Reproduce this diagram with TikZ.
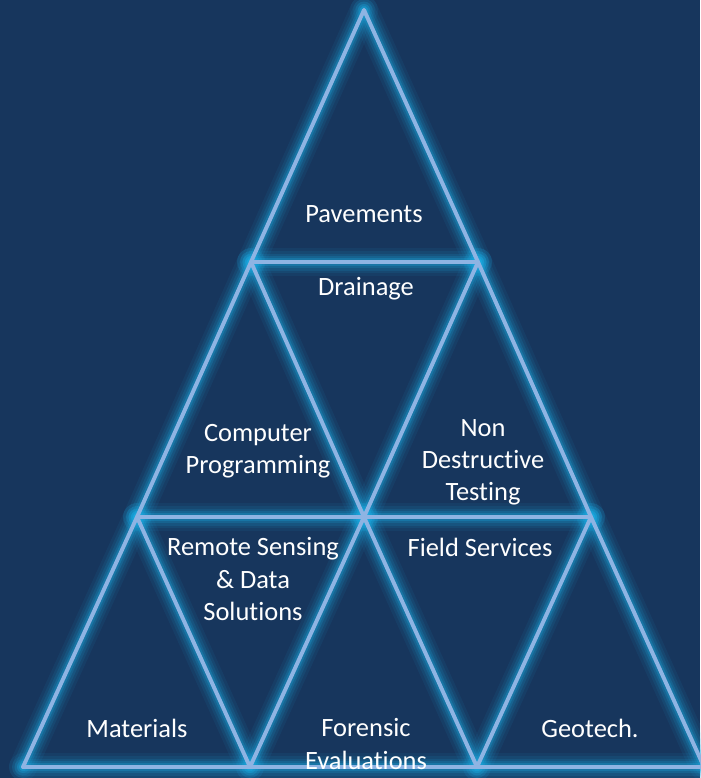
\documentclass[tikz,border=0pt]{standalone}
\usepackage{fontspec}
\setmainfont[RawFeature=-liga]{Carlito}
\definecolor{navy}{HTML}{17365D}
\definecolor{edgeblue}{HTML}{8EB4E3}
\definecolor{glowblue}{HTML}{1CAEE6}
\tikzset{
  label/.style={text=white, font=\fontsize{18.8}{22.8}\selectfont, align=center},
  edge/.style={edgeblue, line width=2.8pt, line cap=round, line join=round},
}
\begin{document}
\begin{tikzpicture}[x=0.025cm, y=-0.025cm]
      \fill[navy] (0,0) rectangle (700,778);
      \useasboundingbox (0,0) rectangle (700,778);
      \coordinate (a) at (364,10);
      \coordinate (b1) at (251,262);
      \coordinate (b2) at (478,262);
      \coordinate (c1) at (137,517);
      \coordinate (c2) at (364,517);
      \coordinate (c3) at (591,517);
      \coordinate (d1) at (23,767);
      \coordinate (d2) at (250,767);
      \coordinate (d3) at (477,767);
      \coordinate (d4) at (704,767);
      % glow
      \foreach \w/\o in {28/0.07, 22/0.09, 17/0.12, 12/0.17, 8/0.25} {
        \begin{scope}[glowblue, line width=\w*0.711pt, opacity=\o, line cap=round]
          \draw (a) to (b1);
          \draw (a) to (b2);
          \draw (b1) to (b2);
          \draw (b1) to (c1);
          \draw (b1) to (c2);
          \draw (b2) to (c2);
          \draw (b2) to (c3);
          \draw (c1) to (c3);
          \draw (c1) to (d1);
          \draw (c1) to (d2);
          \draw (c2) to (d2);
          \draw (c2) to (d3);
          \draw (c3) to (d3);
          \draw (c3) to (d4);
          \draw (d1) to (d4);
        \end{scope}
      }
      \begin{scope}[edge]
        \draw (a) to (b1);
        \draw (a) to (b2);
        \draw (b1) to (b2);
        \draw (b1) to (c1);
        \draw (b1) to (c2);
        \draw (b2) to (c2);
        \draw (b2) to (c3);
        \draw (c1) to (c3);
        \draw (c1) to (d1);
        \draw (c1) to (d2);
        \draw (c2) to (d2);
        \draw (c2) to (d3);
        \draw (c3) to (d3);
        \draw (c3) to (d4);
        \draw (d1) to (d4);
      \end{scope}
      \node[label] (pavements) at (364,214) {Pavements};
      \node[label] (drainage) at (366,289) {Drainage};
      \node[label] (computer) at (258,451) {Computer\\Programming};
      \node[label] (ndt) at (483,462) {Non\\Destructive\\Testing};
      \node[label] (remote) at (253,579) {Remote Sensing\\\& Data\\Solutions};
      \node[label] (field) at (480,547) {Field Services};
      \node[label] (materials) at (137,728) {Materials};
      \node[label] (forensic) at (366,744) {Forensic\\Evaluations};
      \node[label] (geotech) at (590,728) {Geotech.};
    \end{tikzpicture}
\end{document}
